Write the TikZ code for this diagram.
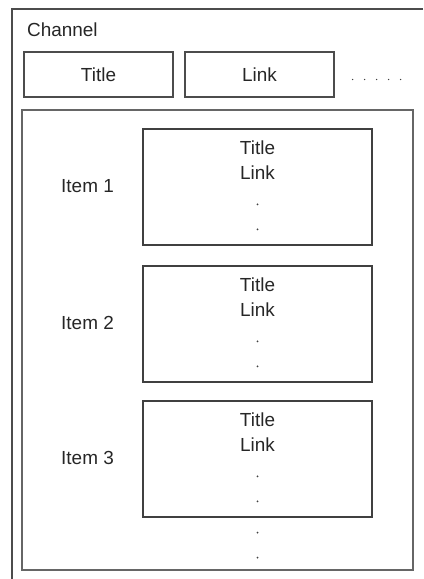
\documentclass[tikz,border=0pt]{standalone}
\usepackage{fontspec}
\setmainfont{Liberation Sans}
\usetikzlibrary{calc, positioning}
\tikzset{
    my-text/.style={
        font=\fontsize{19}{22}\selectfont, text=black!85, inner sep=0pt
    },
    my-field/.style={
        my-text, draw=black!70, line width=1.1pt, minimum width=149bp, minimum height=45bp
    },
    my-frame/.style={
        draw=black!60, line width=1.1pt, minimum width=391bp, minimum height=460bp, inner sep=0pt
    },
    my-item/.style={
        draw=black!75, line width=1.1pt, minimum width=229bp, minimum height=116bp, inner sep=0pt
    },
    my-dot/.style={
        fill=black!75, shape=circle, minimum size=2pt, inner sep=0pt
    },
}
\begin{document}
\begin{tikzpicture}[x=1bp, y=-1bp]
        \useasboundingbox (0,0) rectangle (423,579);

        % CHANNEL BORDER
        \coordinate (CHTR) at (423, 9);
        \coordinate (CHTL) at (12, 9);
        \coordinate (CHBL) at (12, 579);
        \draw[black!70, line width=1.1pt] (CHTR) -- (CHTL) -- (CHBL);
        \node[my-text, anchor=west] (CHANNEL) at (27, 30) {Channel};

        % CHANNEL FIELDS
        \node[my-field] (TITLE) at (98.5, 74.5)         {Title};
        \node[my-field] (LINK)  at ($(TITLE) + (161, 0)$) {Link};
        \foreach \k in {0,...,4} {
            \node[my-dot, minimum size=1.5pt] (FDOT\k) at ($(LINK.east) + (18 + 12*\k, 5)$) {};
        }

        % ITEM FRAME
        \node[my-frame] (ITEMS) at (217.5, 340) {};

        % ITEMS
        \foreach \i/\y in {1/187, 2/324, 3/459} {
            \node[my-item] (ITEM\i) at (257.5, \y) {};
            \node[my-text] (ITEM\i LABEL) at ($(ITEM\i) + (-170, -1)$)      {Item \i};
            \node[my-text] (ITEM\i TITLE) at ($(ITEM\i.north) + (0, 19)$) {Title};
            \node[my-text] (ITEM\i LINK)  at ($(ITEM\i TITLE) + (0, 25)$)  {Link};
            \node[my-dot]  (ITEM\i DOTA)  at ($(ITEM\i LINK) + (0, 32)$)   {};
            \node[my-dot]  (ITEM\i DOTB)  at ($(ITEM\i DOTA) + (0, 25)$)   {};
        }

        % MORE ITEMS
        \node[my-dot] (MOREA) at ($(ITEM3.south) + (0, 15)$) {};
        \node[my-dot] (MOREB) at ($(MOREA) + (0, 25)$)       {};

\end{tikzpicture}
\end{document}
